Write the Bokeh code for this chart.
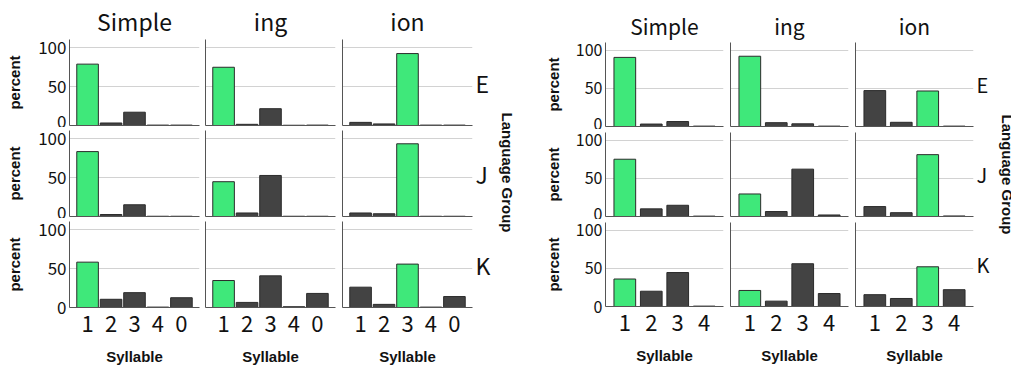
from bokeh.plotting import figure
from bokeh.models import ColumnDataSource, Range1d, FixedTicker, LinearAxis
from bokeh.layouts import row, column
from bokeh.embed import file_html
from bokeh.resources import INLINE

# ---------------- data ----------------
suffixes = ["Simple", "ing", "ion"]
groups = ["E", "J", "K"]
target_syllable = ["1", "1", "3"]          # correct syllable per suffix (green bar)

syll_left = ["1", "2", "3", "4", "0"]
syll_right = ["1", "2", "3", "4"]

# left panel (percent), order of syll_left
L_E_simple = [78.5, 3.2, 17.0, 0.5, 0.5]
L_E_ing = [74.5, 1.5, 21.5, 0.3, 0.5]
L_E_ion = [4.0, 2.0, 92.0, 0.5, 0.5]
L_J_simple = [83.0, 2.5, 15.0, 0.3, 0.3]
L_J_ing = [44.5, 4.5, 52.5, 0.3, 0.3]
L_J_ion = [4.5, 3.5, 93.0, 0.3, 0.3]
L_K_simple = [58.0, 10.5, 19.0, 0.5, 12.5]
L_K_ing = [34.5, 6.5, 40.5, 1.0, 18.0]
L_K_ion = [26.0, 4.0, 55.5, 0.5, 14.0]

# right panel (percent), order of syll_right
R_E_simple = [90.5, 3.2, 6.5, 0.5]
R_E_ing = [92.0, 5.0, 3.5, 0.5]
R_E_ion = [47.0, 5.5, 46.5, 0.5]
R_J_simple = [75.0, 10.0, 14.7, 0.5]
R_J_ing = [29.5, 6.5, 62.0, 2.0]
R_J_ion = [13.0, 5.0, 81.0, 0.7]
R_K_simple = [36.0, 20.0, 44.5, 0.5]
R_K_ing = [21.0, 7.0, 56.0, 17.0]
R_K_ion = [15.5, 10.5, 52.0, 22.0]

y_ticks = [0, 50, 100]

LEFT = [[L_E_simple, L_E_ing, L_E_ion],
        [L_J_simple, L_J_ing, L_J_ion],
        [L_K_simple, L_K_ing, L_K_ion]]
RIGHT = [[R_E_simple, R_E_ing, R_E_ion],
         [R_J_simple, R_J_ing, R_J_ion],
         [R_K_simple, R_K_ing, R_K_ion]]

# ---------------- styles ----------------
GREEN = "#3fe87a"
DARK = "#434343"
EDGE = "#2b2b2b"
AXIS_C = "#555555"
GRID_C = "#d2d2d2"
TXT = "#111111"
NUM_FONT = "Noto Sans CJK JP"
BOLD_FONT = "Liberation Sans"

panels = {
    "left": dict(data=LEFT, syll=syll_left, xr=(0.23, 5.77), bw=0.92,
                 fw=[130, 130, 130], bl=[69, 3, 4], br=[3, 3, 19],
                 fh=86, bt=[38, 3, 3], bb=[2, 2, 61],
                 title_size="23px", tick_size="17px", row_size="23px",
                 pct_standoff=12, row_standoff=3,
                 lg_width=24, lg_standoff=4),
    "right": dict(data=RIGHT, syll=syll_right, xr=(0.27, 4.73), bw=0.82,
                  fw=[118, 118, 118], bl=[87, 4, 4], br=[3, 3, 15],
                  fh=84, bt=[42, 3, 3], bb=[3, 3, 61],
                  title_size="21px", tick_size="16px", row_size="20px",
                  pct_standoff=11, row_standoff=3,
                  lg_width=26, lg_standoff=5),
}


def empty_axis(ax):
    ax.ticker = FixedTicker(ticks=[])
    ax.major_label_standoff = 0
    ax.major_tick_out = 0
    ax.major_tick_in = 0
    ax.major_tick_line_color = None
    ax.minor_tick_line_color = None


def make_fig(cfg, gi, si):
    syll = cfg["syll"]
    vals = cfg["data"][gi][si]
    xs = list(range(1, len(syll) + 1))
    colors = [GREEN if s == target_syllable[si] else DARK for s in syll]
    src = ColumnDataSource(dict(x=xs, top=vals, color=colors))

    p = figure(frame_width=cfg["fw"][si], frame_height=cfg["fh"],
               min_border_left=cfg["bl"][si], min_border_right=cfg["br"][si],
               min_border_top=cfg["bt"][gi], min_border_bottom=cfg["bb"][gi],
               x_range=Range1d(*cfg["xr"]), y_range=Range1d(0, 110),
               toolbar_location=None, output_backend="svg")
    p.outline_line_color = None
    p.background_fill_color = "white"
    p.border_fill_color = "white"

    p.vbar(x="x", top="top", bottom=0, width=cfg["bw"], source=src,
           fill_color="color", line_color=EDGE, line_width=1)

    p.xgrid.visible = False
    p.ygrid.ticker = FixedTicker(ticks=y_ticks)
    p.ygrid.grid_line_color = GRID_C
    p.ygrid.grid_line_width = 1

    # x axis
    xa = p.xaxis[0]
    empty_axis(xa)
    xa.axis_line_color = AXIS_C
    if gi == 2:
        xa.ticker = FixedTicker(ticks=xs)
        xa.major_label_overrides = {x: s for x, s in zip(xs, syll)}
        xa.major_label_text_font = NUM_FONT
        xa.major_label_text_font_size = "22px"
        xa.major_label_text_color = TXT
        xa.major_label_standoff = 8
        xa.axis_label = "Syllable"
        xa.axis_label_text_font = BOLD_FONT
        xa.axis_label_text_font_style = "bold"
        xa.axis_label_text_font_size = "15px"
        xa.axis_label_text_color = TXT
        xa.axis_label_standoff = 13

    # y axis
    ya = p.yaxis[0]
    empty_axis(ya)
    ya.axis_line_color = AXIS_C
    if si == 0:
        ya.ticker = FixedTicker(ticks=y_ticks)
        ya.major_label_text_font = NUM_FONT
        ya.major_label_text_font_size = cfg["tick_size"]
        ya.major_label_text_color = TXT
        ya.major_label_standoff = 3
        ya.axis_label = "percent"
        ya.axis_label_text_font = BOLD_FONT
        ya.axis_label_text_font_style = "bold"
        ya.axis_label_text_font_size = "15px"
        ya.axis_label_text_color = TXT
        ya.axis_label_standoff = cfg["pct_standoff"]

    # column titles
    if gi == 0:
        p.title.text = suffixes[si]
        p.title.align = "center"
        p.title.text_font = NUM_FONT
        p.title.text_font_style = "normal"
        p.title.text_font_size = cfg["title_size"]
        p.title.text_color = TXT
        p.title.standoff = 3
        p.title.offset = 0

    # row strip labels
    if si == 2:
        ra = LinearAxis(axis_label=groups[gi])
        empty_axis(ra)
        ra.axis_line_color = None
        ra.axis_label_orientation = "horizontal"
        ra.axis_label_text_font = NUM_FONT
        ra.axis_label_text_font_style = "normal"
        ra.axis_label_text_font_size = cfg["row_size"]
        ra.axis_label_text_color = TXT
        ra.axis_label_standoff = cfg["row_standoff"]
        p.add_layout(ra, "right")
    return p


def make_group_label(cfg):
    # narrow strip holding the overall facet label, spanning the three rows
    top = cfg["bt"][0]
    bottom = cfg["bb"][2]
    total_frame = 3 * cfg["fh"] + sum(cfg["bt"][1:]) + sum(cfg["bb"][:2])
    p = figure(frame_width=1, frame_height=total_frame,
               min_border_left=0, min_border_right=cfg["lg_width"] - 1,
               min_border_top=top, min_border_bottom=bottom,
               x_range=Range1d(0, 1), y_range=Range1d(0, 1),
               x_axis_location=None, y_axis_location=None,
               toolbar_location=None, output_backend="svg")
    p.outline_line_color = None
    p.grid.visible = False
    p.background_fill_color = "white"
    p.border_fill_color = "white"
    la = LinearAxis(axis_label="Language Group")
    empty_axis(la)
    la.axis_line_color = None
    la.axis_label_text_font = BOLD_FONT
    la.axis_label_text_font_style = "bold"
    la.axis_label_text_font_size = "15px"
    la.axis_label_text_color = TXT
    la.axis_label_standoff = cfg["lg_standoff"]
    p.add_layout(la, "right")
    return p


def make_panel(cfg):
    rows = []
    for gi in range(3):
        rows.append(row([make_fig(cfg, gi, si) for si in range(3)], spacing=0))
    return row([column(rows, spacing=0), make_group_label(cfg)], spacing=0)


layout = row([make_panel(panels["left"]), make_panel(panels["right"])], spacing=0)

open("out.html", "w").write(file_html(layout, INLINE))
